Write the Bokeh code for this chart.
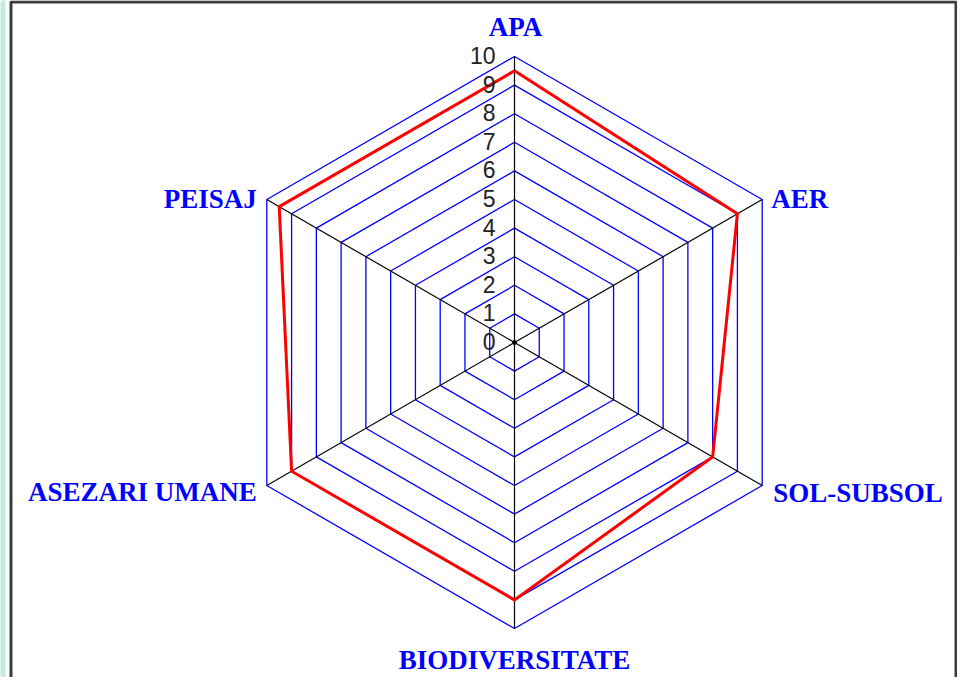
import numpy as np
from bokeh.plotting import figure
from bokeh.models import Range1d, ColumnDataSource
from bokeh.embed import file_html
from bokeh.resources import INLINE
from bokeh.core.properties import value

# ---------------- data ----------------
categories = ["APA", "AER", "SOL-SUBSOL", "BIODIVERSITATE", "ASEZARI UMANE", "PEISAJ"]
scores = [9.5, 9.0, 8.0, 9.0, 9.0, 9.5]
ring_levels = [1, 2, 3, 4, 5, 6, 7, 8, 9, 10]
tick_values = [0, 1, 2, 3, 4, 5, 6, 7, 8, 9, 10]
tick_labels = ["0", "1", "2", "3", "4", "5", "6", "7", "8", "9", "10"]
max_value = 10

# ---------------- layout / style ----------------
PX = 28.6            # screen pixels per unit of score
CX, CY = 522, 350    # page position of the radar centre
W, H = 957, 677
OX, OY = 8, 8

GREEN = "#c3eedc"
BLUE = "#0000ff"
RED = "#ff0000"

label_offsets = [(1, -30), (9, -1), (11, 7), (0, 31), (-10, 6), (-10, -1)]
label_align = ["center", "left", "left", "center", "right", "right"]


def dx(px):
    return (px - CX) / PX


def dy(py):
    return (CY - py) / PX


p = figure(width=W, height=H,
           x_range=Range1d(dx(OX), dx(OX + W)),
           y_range=Range1d(dy(OY + H), dy(OY)),
           output_backend="svg", toolbar_location=None, min_border=0)
p.axis.visible = False
p.grid.visible = False
p.outline_line_color = None
p.background_fill_color = GREEN
p.border_fill_color = GREEN

# white slide panel with dark frame
p.quad(left=dx(13), right=dx(980), top=dy(3), bottom=dy(720),
       fill_color="white", line_color=None)
p.quad(left=dx(18.5), right=dx(963.5), top=dy(9.5), bottom=dy(720),
       fill_color="white", line_color="#3c3c3c", line_width=3)

n = len(categories)
angles = np.deg2rad(90 - 360.0 / n * np.arange(n))
ca, sa = np.cos(angles), np.sin(angles)

# rings
ring_xs = [list(np.append(r * ca, r * ca[0])) for r in ring_levels]
ring_ys = [list(np.append(r * sa, r * sa[0])) for r in ring_levels]
p.multi_line(xs=ring_xs, ys=ring_ys, line_color=BLUE, line_width=1.3)

# spokes
p.segment(x0=[0] * n, y0=[0] * n, x1=list(max_value * ca), y1=list(max_value * sa),
          line_color="black", line_width=1.2)
p.scatter(x=[0], y=[0], size=4, color="black")

# data polygon
sc = np.array(scores)
p.line(x=list(np.append(sc * ca, sc[0] * ca[0])),
       y=list(np.append(sc * sa, sc[0] * sa[0])),
       line_color=RED, line_width=3, line_join="miter")

# tick labels
p.text(x=[0] * len(tick_values), y=tick_values, text=tick_labels,
       x_offset=-19, y_offset=-1, text_align="right", text_baseline="middle",
       text_font=value("Liberation Sans"), text_font_size="23px", text_color="#222222")

# category labels
src = ColumnDataSource(dict(
    x=list(max_value * ca), y=list(max_value * sa), text=categories,
    xo=[o[0] for o in label_offsets], yo=[o[1] for o in label_offsets],
    al=label_align))
p.text(x="x", y="y", text="text", x_offset="xo", y_offset="yo", text_align="al",
       text_baseline="middle", source=src,
       text_font=value("Liberation Serif"), text_font_style="bold",
       text_font_size="27px", text_color=BLUE)

open("out.html", "w").write(file_html(p, INLINE))
